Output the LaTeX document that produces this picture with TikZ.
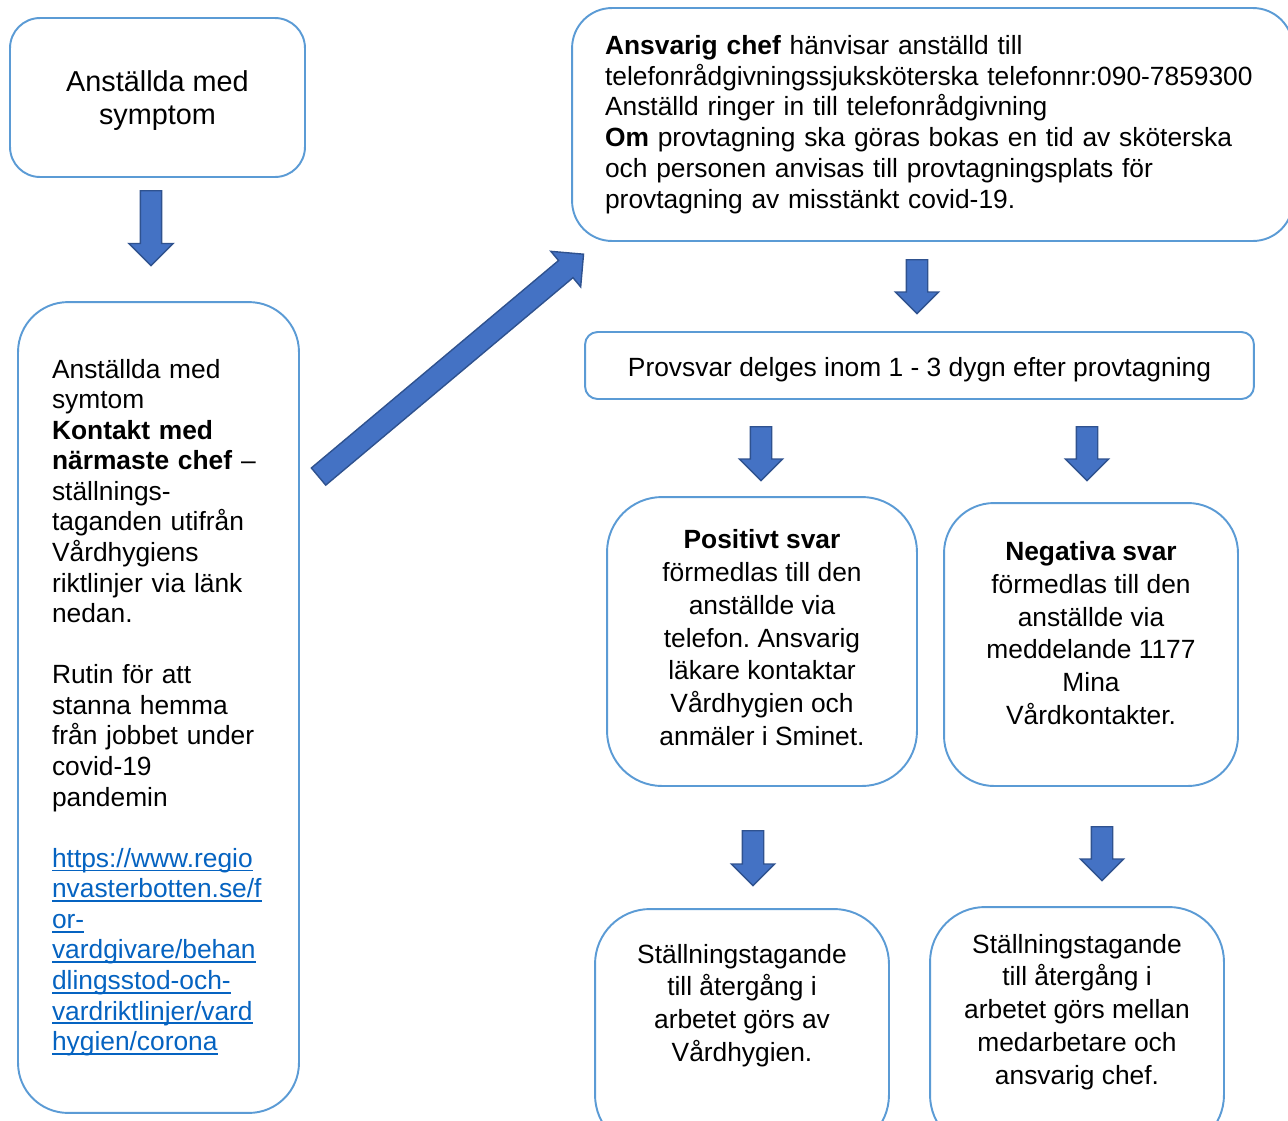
\documentclass[tikz,border=0pt]{standalone}
\usepackage{fontspec}
\setmainfont{Liberation Sans}
\usetikzlibrary{shapes.arrows}
\definecolor{BoxBlue}{HTML}{5B9BD5}
\definecolor{ArrFill}{HTML}{4472C4}
\definecolor{ArrEdge}{HTML}{2F528F}
\definecolor{LinkBlue}{HTML}{0563C1}
\newcommand{\lnk}[1]{\textcolor{LinkBlue}{\setbox0\hbox{#1}\rlap{\rule[-2.4pt]{\wd0}{1pt}}\box0}}
\frenchspacing

\begin{document}
\begin{tikzpicture}[x=0.02cm,y=-0.02cm,
    roundbox/.style={draw=BoxBlue, line width=1.1pt, fill=white, rounded corners=#1,
        inner sep=0pt, align=center, font=\fontsize{15}{18.7}\selectfont},
    roundbox/.default=1cm,
    blockarrow/.style={single arrow, draw=ArrEdge, fill=ArrFill, line width=0.8pt,
        inner xsep=0pt, inner ysep=0.2cm, single arrow head extend=0.22cm, single arrow tip angle=90,
        single arrow head indent=0pt, minimum height=1.08cm, anchor=tail}]
    \useasboundingbox (0,0) rectangle (1288,1120);

    \node[roundbox=0.6cm, minimum width=5.9cm, minimum height=3.18cm, text height=1.2cm,
        font=\fontsize{16.4}{18.7}\selectfont] (symbox) at (157.5,97.5) {Anställda med\\symptom};

    \node[roundbox=1cm, minimum width=5.62cm, minimum height=16.22cm, align=left, text width=4.26cm,
        font=\fontsize{15}{17.4}\selectfont] (chefbox) at (158.5,707.5)
        {Anställda med\\symtom\\\textbf{Kontakt med}\\\textbf{närmaste chef} –\\ställnings-\\taganden utifrån\\Vårdhygiens\\riktlinjer via länk\\nedan.\\[17.4pt]
         Rutin för att\\stanna hemma\\från jobbet under\\covid-19\\pandemin\\[17.4pt]
         \lnk{https://www.regio}\\\lnk{nvasterbotten.se/f}\\\lnk{or-}\\\lnk{vardgivare/behan}\\\lnk{dlingsstod-och-}\\\lnk{vardriktlinjer/vard}\\\lnk{hygien/corona}};

    \node[roundbox=0.8cm, minimum width=14.42cm, minimum height=4.66cm, align=left, text width=13.1cm,
        font=\fontsize{15}{17.5}\selectfont] (callbox) at (932.5,124.5)
        {\textbf{Ansvarig chef} hänvisar anställd till\\telefonrådgivningssjuksköterska telefonnr:090-7859300\\Anställd ringer in till telefonrådgivning\\\textbf{Om} provtagning ska göras bokas en tid av sköterska\\och personen anvisas till provtagningsplats för\\provtagning av misstänkt covid-19.};

    \node[roundbox=0.25cm, minimum width=13.38cm, minimum height=1.34cm, text height=0.55cm] (resultbox) at (919.5,365.5)
        {Provsvar delges inom 1 - 3 dygn efter provtagning};

    \node[roundbox=1.1cm, minimum width=6.2cm, minimum height=5.78cm, text depth=0.16cm] (posbox) at (762,641.5)
        {\textbf{Positivt svar}\\förmedlas till den\\anställde via\\telefon. Ansvarig\\läkare kontaktar\\Vårdhygien och\\anmäler i Sminet.};
    \node[roundbox=1cm, minimum width=5.88cm, minimum height=5.66cm, text depth=0.46cm] (negbox) at (1091,644.5)
        {\textbf{Negativa svar}\\förmedlas till den\\anställde via\\meddelande 1177\\Mina\\Vårdkontakter.};

    \node[roundbox=1.1cm, minimum width=5.88cm, minimum height=4.82cm, text depth=1.07cm] (posret) at (742,1029.5)
        {Ställningstagande\\till återgång i\\arbetet görs av\\Vårdhygien.};
    \node[roundbox=1.1cm, minimum width=5.88cm, minimum height=4.86cm, text depth=0.77cm] (negret) at (1077,1028.5)
        {Ställningstagande\\till återgång i\\arbetet görs mellan\\medarbetare och\\ansvarig chef.};

    \node[blockarrow, rotate=-90, single arrow head extend=0.23cm, minimum height=1.5cm] (arrsym) at (151,190) {};
    \node[blockarrow, rotate=40, inner ysep=0.21cm, single arrow head extend=0.24cm,
        minimum height=6.92cm] (arrchef) at (318,477) {};
    \node[blockarrow, rotate=-90] (arrcall) at (917,259) {};
    \node[blockarrow, rotate=-90] (arrpos) at (761,426) {};
    \node[blockarrow, rotate=-90] (arrneg) at (1087,426) {};
    \node[blockarrow, rotate=-90, minimum height=1.1cm] (arrposret) at (753,830) {};
    \node[blockarrow, rotate=-90] (arrnegret) at (1102,826) {};
\end{tikzpicture}
\end{document}
